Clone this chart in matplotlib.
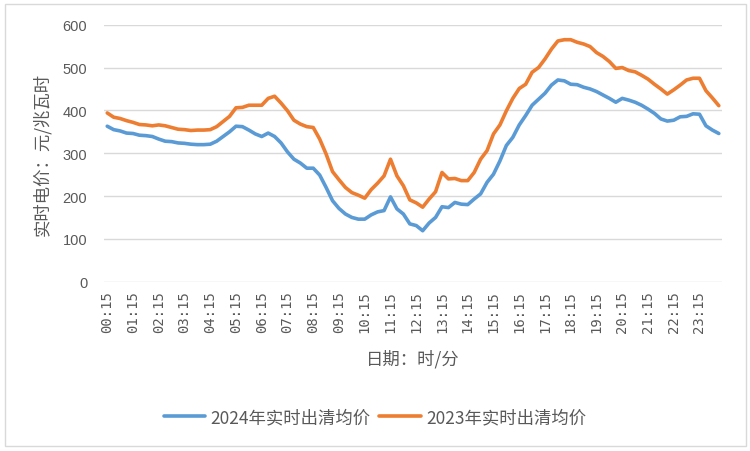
import matplotlib.pyplot as plt
from matplotlib.patches import Rectangle

plt.rcParams['font.family'] = ['Noto Sans CJK SC', 'DejaVu Sans']

# 15-minute points 00:15 .. 24:00
times = ["%02d:%02d" % divmod(15 * (k + 1), 60) for k in range(96)]
tick_labels = ["%02d:15" % h for h in range(24)]

price_2024 = [363, 355, 352, 347, 346, 342, 341, 339, 333, 328, 327, 324, 323, 321, 320, 320, 321, 328, 339, 350,
              363, 362, 354, 345, 339, 347, 339, 324, 303, 286, 277, 265, 265, 249, 220, 189, 171, 158, 150,
              146, 146, 156, 163, 166, 198, 170, 158, 135, 131, 119, 137, 150, 175, 173, 185, 181, 180, 193,
              205, 232, 251, 282, 318, 337, 366, 388, 412, 426, 440, 459, 471, 469, 461, 460, 454, 450, 444, 436,
              428, 419, 428, 424, 419, 412, 403, 393, 380, 375, 377, 385, 386, 392, 391, 364, 354, 346]

price_2023 = [394, 384, 381, 376, 372, 367, 366, 364, 366, 364, 360, 356, 355, 353, 354, 354, 355, 362, 374, 386,
              406, 407, 412, 412, 412, 428, 433, 417, 399, 377, 368, 362, 360, 333, 298, 257, 238, 220, 208,
              202, 195, 215, 230, 247, 286, 247, 224, 191, 184, 174, 193, 210, 255, 240, 241, 236, 236, 255,
              286, 306, 345, 366, 399, 428, 451, 461, 489, 500, 520, 543, 562, 565, 565, 559, 555, 549, 535, 526,
              514, 498, 500, 493, 490, 482, 473, 461, 450, 438, 448, 459, 471, 475, 475, 446, 429, 411]

fig = plt.figure(figsize=(7.5, 4.52), dpi=100)
ax = fig.add_axes([0.1387, 0.3746, 0.824, 0.5685])

x = list(range(len(times)))
ax.plot(x, price_2024, color='#5B9BD5', lw=2.6, label='2024年实时出清均价', solid_capstyle='round')
ax.plot(x, price_2023, color='#ED7D31', lw=2.6, label='2023年实时出清均价', solid_capstyle='round')

ax.set_xlim(-0.5, 95.5)
ax.set_ylim(0, 600)
ax.set_yticks(range(0, 601, 100))
ax.set_xticks(range(0, 96, 4))
ax.set_xticklabels(tick_labels, rotation=90, family=['DejaVu Sans Mono', 'DejaVu Sans'])
ax.tick_params(axis='x', length=0, labelsize=10, labelcolor='#595959', pad=6)
ax.tick_params(axis='y', length=0, labelsize=10.5, labelcolor='#595959', pad=12)
for lab in ax.get_yticklabels():
    lab.set_family(['Liberation Sans', 'DejaVu Sans'])

ax.grid(axis='y', color='#D9D9D9', lw=1)
ax.set_axisbelow(True)
for s in ax.spines.values():
    s.set_visible(False)

ax.set_xlabel('日期：时/分', fontsize=12.5, color='#595959', labelpad=12)
ax.set_ylabel('实时电价：元/兆瓦时', fontsize=12.5, color='#595959', labelpad=8)

fig.legend(loc='center', bbox_to_anchor=(0.5, 0.075), ncol=2, frameon=False,
           fontsize=12.5, handlelength=2.4, columnspacing=0.5, handletextpad=0.3,
           labelcolor='#595959')

fig.patches.append(Rectangle((0.006, 0.011), 0.988, 0.978, transform=fig.transFigure,
                             fill=False, edgecolor='#D9D9D9', lw=1))

fig.savefig('out.png', dpi=100)
